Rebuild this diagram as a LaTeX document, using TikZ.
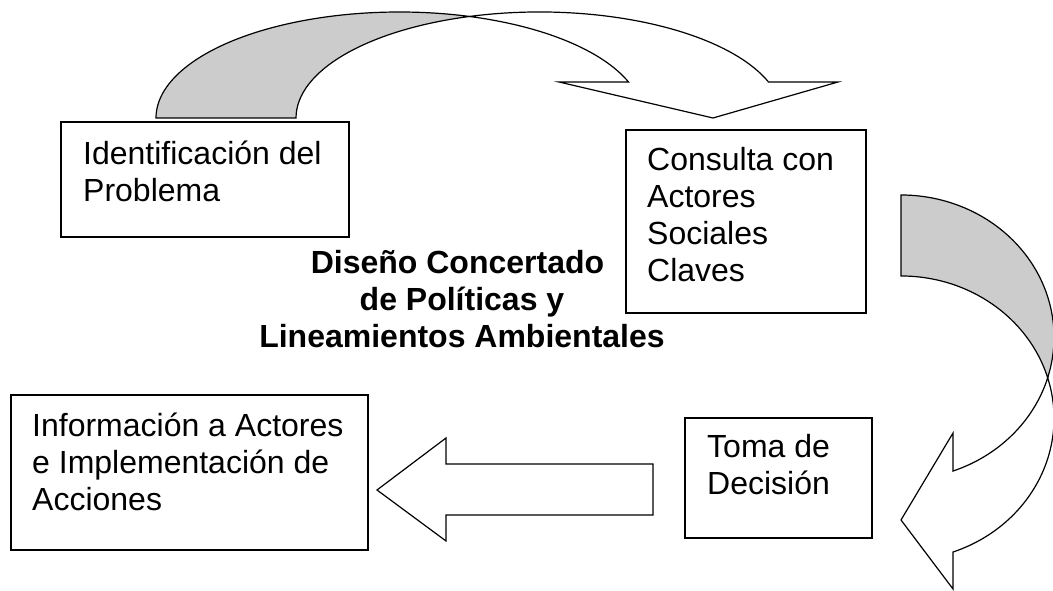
\documentclass[tikz,border=0pt]{standalone}
\usepackage{fontspec}
\setmainfont{Liberation Sans}
\definecolor{backgray}{rgb}{0.8, 0.8, 0.8}

\begin{document}
\begin{tikzpicture}[x=1pt,y=1pt]
  \tikzset{BoxStyle/.style = {
    shape         = rectangle,
    draw          = black,
    fill          = white,
    line width    = 1.3pt,
    inner sep     = 0pt,
    outer sep     = 0pt
    }
  }
  \tikzset{TextStyle/.style = {
    anchor        = north west,
    align         = left,
    text          = black,
    inner sep     = 0pt,
    font          = \fontsize{32}{37}\selectfont
    }
  }
  \tikzset{TitleStyle/.style = {
    anchor        = north,
    align         = center,
    text          = black,
    inner sep     = 0pt,
    font          = \fontsize{32}{37}\selectfont\bfseries
    }
  }
  \tikzset{FrontStyle/.style = {
    draw          = black,
    fill          = white,
    line width    = 1.2pt,
    line join     = miter
    }
  }
  \tikzset{BackStyle/.style = {
    draw          = black,
    fill          = backgray,
    line width    = 1.2pt,
    line join     = miter
    }
  }

	\useasboundingbox (0,0) rectangle (1053,591);

	% curved arrow over the top
	\draw[BackStyle] (156,473) arc[start angle=180, end angle=73.29, x radius=243.5, y radius=106]
	  arc[start angle=106.71, end angle=180, x radius=243.5, y radius=106] -- cycle;
	\draw[FrontStyle] (469.5,574.5) arc[start angle=73.29, end angle=19.85, x radius=243.5, y radius=106]
	  -- (559,509) -- (713,473) -- (838,509) -- (768.5,509)
	  arc[start angle=19.85, end angle=106.71, x radius=243.5, y radius=106] -- cycle;

	% curved arrow on the right
	\draw[BackStyle] (901,396) arc[start angle=90, end angle=-16.54, x radius=153, y radius=142.25]
	  arc[start angle=16.54, end angle=90, x radius=153, y radius=142.25] -- cycle;
	\draw[FrontStyle] (1047.7,213.25) arc[start angle=-16.54, end angle=-70.13, x radius=153, y radius=142.25]
	  -- (953,158) -- (901,71) -- (953,2) -- (953,38.96)
	  arc[start angle=-70.13, end angle=16.54, x radius=153, y radius=142.25] -- cycle;

	% straight arrow at the bottom
	\draw[FrontStyle] (377,101) -- (446,153) -- (446,127) -- (653,127)
	  -- (653,76) -- (446,76) -- (446,50) -- cycle;

	\node[BoxStyle, minimum width=288, minimum height=115](Ident) at (205, 411.5) {};
	\node[BoxStyle, minimum width=240, minimum height=183](Consult) at (746, 369.5) {};
	\node[BoxStyle, minimum width=357, minimum height=155](Inform) at (189.5, 118.5) {};
	\node[BoxStyle, minimum width=187, minimum height=120](Decide) at (778.5, 113) {};

	\node[TextStyle](IdentText) at (83, 450) {Identificación del\\Problema};
	\node[TextStyle](ConsultText) at (647, 444) {Consulta con\\Actores\\Sociales\\Claves};
	\node[TextStyle](InformText) at (32, 178) {Información a Actores\\e Implementación de\\Acciones};
	\node[TextStyle](DecideText) at (707, 157) {Toma de\\Decisión};

	\node[TitleStyle](Title) at (462, 341) {Diseño Concertado\hspace*{9pt}\\de Políticas y\\Lineamientos Ambientales};

\end{tikzpicture}
\end{document}
